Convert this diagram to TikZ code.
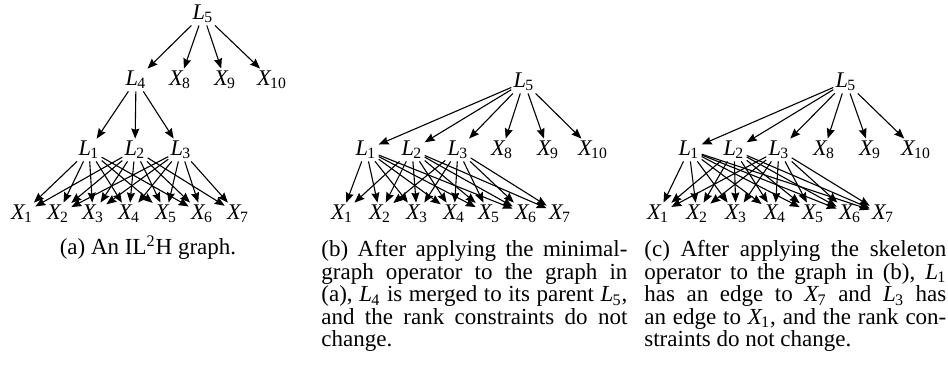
\documentclass[tikz,border=0pt]{standalone}
\usepackage{fontspec}
\setmainfont{Liberation Serif}
\usetikzlibrary{arrows.meta}
\newcommand\sv[2]{{\itshape #1}\kern-0.03em\textsubscript{#2}}
\tikzset{
  lab/.style={inner sep=1pt, font=\fontsize{11.2}{13}\selectfont},
  arr/.style={-{Stealth[length=5pt,width=4pt,inset=0.6pt]}, line width=0.55pt},
  captext/.style={anchor=north west, inner sep=0pt, align=justify,
              font=\fontsize{11.5}{11.3}\selectfont}
}
\begin{document}
\begin{tikzpicture}[x=0.5pt,y=-0.5pt]
\useasboundingbox (0,0) rectangle (948,373);
% ---------- (a) ----------
\node[lab] (a5) at (203,14) {\sv{L}{5}};
\node[lab] (a4) at (136,80) {\sv{L}{4}};
\node[lab] (a8) at (180,80) {\sv{X}{8}};
\node[lab] (a9) at (225,80) {\sv{X}{9}};
\node[lab] (a10) at (272,80) {\sv{X}{10}};
\node[lab] (aL1) at (89,150) {\sv{L}{1}};
\node[lab] (aL2) at (135,150) {\sv{L}{2}};
\node[lab] (aL3) at (181,150) {\sv{L}{3}};
\foreach \i/\x in {1/22,2/58,3/93,4/129,5/166,6/202,7/238}
  \node[lab] (aX\i) at (\x,214) {\sv{X}{\i}};
\foreach \t in {a4,a8,a9,a10} \draw[arr] (a5) -- (\t);
\foreach \t in {aL1,aL2,aL3} \draw[arr] (a4) -- (\t);
\foreach \j in {1,...,6} \draw[arr] (aL1) -- (aX\j);
\foreach \j in {1,...,7} \draw[arr] (aL2) -- (aX\j);
\foreach \j in {2,...,7} \draw[arr] (aL3) -- (aX\j);
\node[anchor=base, inner sep=0pt, font=\fontsize{11.5}{11.3}\selectfont] (capa) at (148,255) {(a) An IL\textsuperscript{2}H graph.};
% ---------- (b) ----------
\node[lab] (b5) at (524,82) {\sv{L}{5}};
\node[lab] (bL1) at (366,150) {\sv{L}{1}};
\node[lab] (bL2) at (412,150) {\sv{L}{2}};
\node[lab] (bL3) at (458,150) {\sv{L}{3}};
\node[lab] (b8) at (502,150) {\sv{X}{8}};
\node[lab] (b9) at (548,150) {\sv{X}{9}};
\node[lab] (b10) at (593,150) {\sv{X}{10}};
\foreach \i/\x in {1/342,2/380,3/417,4/454,5/489,6/526,7/560}
  \node[lab] (bX\i) at (\x,214) {\sv{X}{\i}};
\foreach \t in {bL1,bL2,bL3,b8,b9,b10} \draw[arr] (b5) -- (\t);
\foreach \j in {1,...,6} \draw[arr] (bL1) -- (bX\j);
\foreach \j in {1,...,7} \draw[arr] (bL2) -- (bX\j);
\foreach \j in {2,...,7} \draw[arr] (bL3) -- (bX\j);
\node[captext, text width=153pt] (capb) at (321,240) {(b) After applying the minimal-\linebreak
graph operator to the graph in\linebreak
(a), \sv{L}{4} is merged to its parent \sv{L}{5},\linebreak
and the rank constraints do not\linebreak
change.};
% ---------- (c) ----------
\node[lab] (c5) at (846,82) {\sv{L}{5}};
\node[lab] (cL1) at (689,150) {\sv{L}{1}};
\node[lab] (cL2) at (734,150) {\sv{L}{2}};
\node[lab] (cL3) at (779,150) {\sv{L}{3}};
\node[lab] (c8) at (824,150) {\sv{X}{8}};
\node[lab] (c9) at (870,150) {\sv{X}{9}};
\node[lab] (c10) at (916,150) {\sv{X}{10}};
\foreach \i/\x in {1/658,2/697,3/736,4/775,5/813,6/850,7/883}
  \node[lab] (cX\i) at (\x,214) {\sv{X}{\i}};
\foreach \t in {cL1,cL2,cL3,c8,c9,c10} \draw[arr] (c5) -- (\t);
\foreach \s in {cL1,cL2,cL3}
  \foreach \j in {1,...,7} \draw[arr] (\s) -- (cX\j);
\node[captext, text width=151pt] (capc) at (644,240) {(c) After applying the skeleton\linebreak
operator to the graph in (b), \sv{L}{1}\linebreak
has an edge to \sv{X}{7} and \sv{L}{3} has\linebreak
an edge to \sv{X}{1}, and the rank con-\linebreak
straints do not change.};
\end{tikzpicture}
\end{document}
